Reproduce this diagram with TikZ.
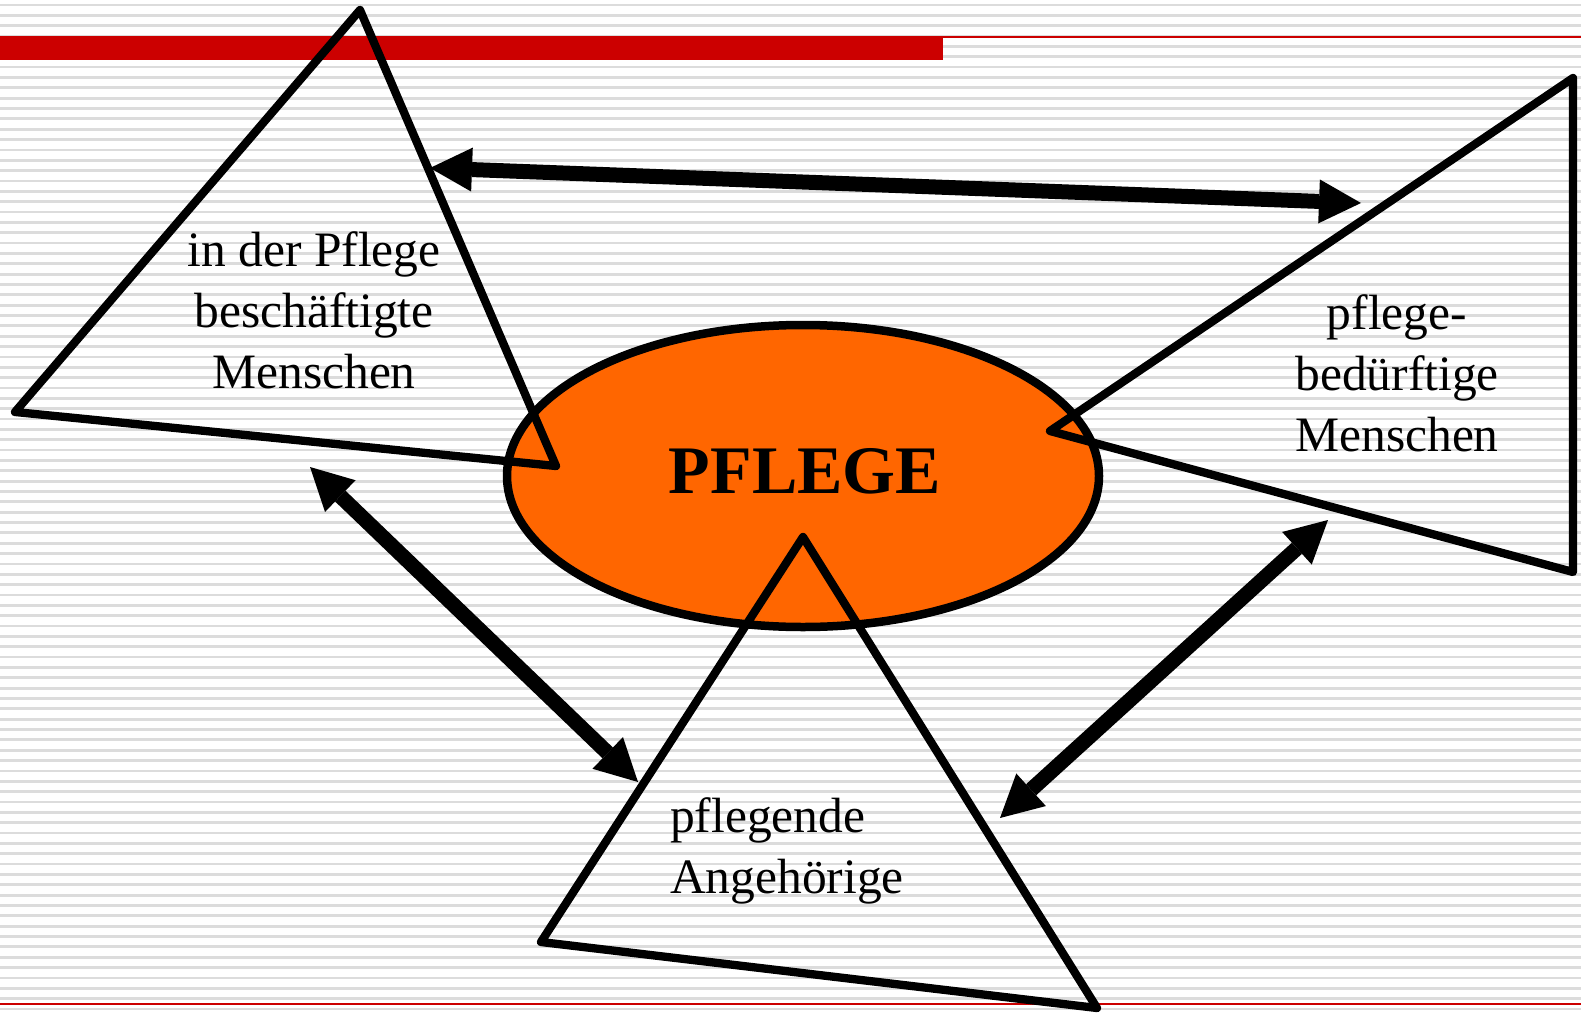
\documentclass[tikz,border=0pt]{standalone}
\usepackage{fontspec}
\setmainfont{Liberation Serif}
\usetikzlibrary{arrows.meta,shapes.geometric}
\definecolor{pfred}{HTML}{CC0000}
\definecolor{pforange}{HTML}{FF6600}
\definecolor{stripegray}{HTML}{DCDCDC}
\tikzset{
  stripe/.style={draw=stripegray,line width=2.8pt},
  tri/.style={draw=black,line width=8.3pt,line join=round,line cap=round},
  bigarrow/.style={draw=black,line width=15pt,
    {Triangle[length=42pt,width=44pt,line width=0pt]}-{Triangle[length=42pt,width=44pt,line width=0pt]}},
  lbl/.style={font=\fontsize{49.5}{61}\selectfont,inner sep=0pt,anchor=base,align=center},
}
\begin{document}
\begin{tikzpicture}[x=1pt,y=-1pt]
\useasboundingbox (0,0) rectangle (1581,1014);
\fill[white] (0,0) rectangle (1581,1014);
% background stripes
\foreach \i in {0,...,97}{
  \pgfmathsetmacro{\yy}{5+\i*10.35}
  \draw[stripe] (0,\yy) -- (1581,\yy);
}
% red bars
\fill[pfred] (0,36) rectangle (943,60.5);
\draw[pfred,line width=2pt] (943,37) -- (1581,37);
\draw[pfred,line width=2pt] (0,1004) -- (1581,1004);
% ellipse
\node[ellipse,draw=black,fill=pforange,line width=8.5pt,minimum width=592pt,minimum height=302pt,inner sep=0pt] (pflegeell) at (803,476) {};
\node[font=\fontsize{68}{70}\selectfont\bfseries,inner sep=0pt,anchor=base] (pflege) at (805,493) {PFLEGE};
% triangle vertices
\coordinate (a1) at (360,10);
\coordinate (a2) at (15,412);
\coordinate (a3) at (556,466);
\coordinate (b1) at (1573,78);
\coordinate (b2) at (1050,431);
\coordinate (b3) at (1573,572);
\coordinate (c1) at (803,537);
\coordinate (c2) at (541,942);
\coordinate (c3) at (1097,1008);
\draw[tri] (a1) -- (a2) -- (a3) -- cycle;
\draw[tri] (b1) -- (b2) -- (b3) -- cycle;
\draw[tri] (c1) -- (c2) -- (c3) -- cycle;
% labels (anchor = baseline of last line)
\node[lbl] (lbla) at (314,388) {in der Pflege\\beschäftigte\\Menschen};
\node[lbl] (lblb) at (1397,451) {pflege-\\bedürftige\\Menschen};
\node[lbl,align=left,anchor=base west] (lblc) at (670,893) {pflegende\\Angehörige};
% arrows
\coordinate (p1) at (430,168);
\coordinate (p2) at (1361,203);
\coordinate (q1) at (310,467);
\coordinate (q2) at (638,782);
\coordinate (r1) at (1328,520);
\coordinate (r2) at (1000,818);
\draw[bigarrow] (p1) -- (p2);
\draw[bigarrow] (q1) -- (q2);
\draw[bigarrow] (r1) -- (r2);
\end{tikzpicture}
\end{document}
